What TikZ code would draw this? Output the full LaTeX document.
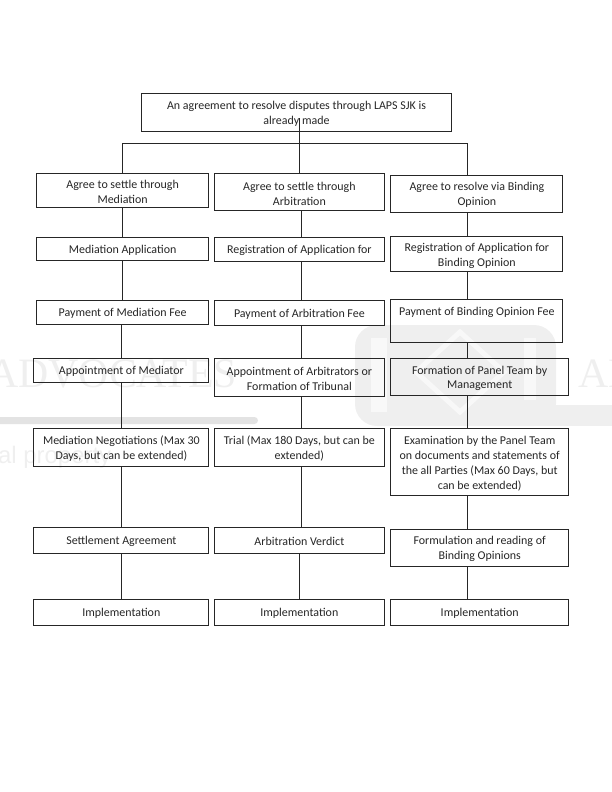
\documentclass[tikz,border=0pt]{standalone}
\usepackage{fontspec}
\setmainfont{Carlito}
\newfontfamily\markfont{Liberation Serif}
\newfontfamily\marksans{Liberation Sans}
\usetikzlibrary{positioning}
\definecolor{markgray}{HTML}{EFEFEF}
\definecolor{marklight}{HTML}{F8F8F8}

\begin{document}
\begin{tikzpicture}[
    x=1bp, y=-1bp,
    every node/.style={font=\fontsize{12}{15}\selectfont, text=black!85},
    stepbox/.style={rectangle, draw=black!85, line width=1bp, outer sep=0pt, inner sep=0pt,
                    text height=10bp, align=center, minimum width=172.2bp},
    topbox/.style={stepbox, minimum width=310.4bp, minimum height=37.7bp},
    midbox/.style={stepbox, minimum width=170.7bp},
    lowbox/.style={stepbox, minimum width=174.7bp},
    widebox/.style={stepbox, minimum width=178bp},
    twolines/.style={text height=26bp},
    fourlines/.style={text height=56bp},
    marktext/.style={text=markgray, inner sep=0pt, anchor=base west},
    conn/.style={draw=black!85, line width=1bp},
]
\useasboundingbox (0,0) rectangle (612,792);

% watermark
\fill[markgray!95!black, rounded corners=3.5bp] (-10,417) rectangle (258,424);
\fill[markgray, rounded corners=22bp] (355,325) rectangle (556,426);
\fill[markgray] (530,405) rectangle (612,426);
\fill[marklight] (371,338) rectangle (387,412);
\draw[marklight, line width=5bp] (460,332) -- (416,372) -- (460,412) -- (504,372) -- cycle;
\fill[marklight] (524,338) rectangle (536,400);
\node[marktext, font=\markfont\fontsize{42}{42}\selectfont] (markleft) at (-12,387) {ADVOCATES};
\node[marktext, font=\markfont\fontsize{42}{42}\selectfont] (markright) at (578,387) {AD};
\node[marktext, font=\marksans\fontsize{24}{24}\selectfont] (markline) at (-2,463) {al property};

\node[topbox, twolines] (agree) at (296.5,112.15) {An agreement to resolve disputes through LAPS SJK is\\already made};

\node[stepbox, twolines, minimum height=33.3bp] (m1) at (122.6,190.35) {Agree to settle through\\Mediation};
\node[stepbox, minimum height=23bp,   below=30.7bp of m1] (m2) {Mediation Application};
\node[stepbox, minimum height=24bp,   below=39.6bp of m2] (m3) {Payment of Mediation Fee};
\node[lowbox, minimum height=24bp, below=34bp of m3, xshift=-1.25bp] (m4) {Appointment of Mediator};
\node[lowbox, twolines, minimum height=37.7bp, below=46bp of m4] (m5) {Mediation Negotiations (Max 30\\Days, but can be extended)};
\node[lowbox, minimum height=26.4bp, below=61.3bp of m5] (m6) {Settlement Agreement};
\node[lowbox, minimum height=25.7bp, below=45.6bp of m6] (m7) {Implementation};

\node[midbox, twolines, minimum height=37bp] (a1) at (299.35,192.2) {Agree to settle through\\Arbitration};
\node[midbox, minimum height=23.7bp, below=26.6bp of a1] (a2) {Registration of Application for};
\node[midbox, minimum height=25.4bp, below=39.3bp of a2] (a3) {Payment of Arbitration Fee};
\node[midbox, twolines, minimum height=38bp, below=32.6bp of a3] (a4) {Appointment of Arbitrators or\\Formation of Tribunal};
\node[midbox, twolines, minimum height=37.7bp, below=32bp of a4] (a5) {Trial (Max 180 Days, but can be\\extended)};
\node[midbox, minimum height=26.4bp, below=61.3bp of a5] (a6) {Arbitration Verdict};
\node[midbox, minimum height=25.7bp, below=45.6bp of a6] (a7) {Implementation};

\node[stepbox, twolines, minimum height=36.7bp] (b1) at (476.85,193.65) {Agree to resolve via Binding\\Opinion};
\node[stepbox, twolines, minimum height=35bp, below=24.7bp of b1] (b2) {Registration of Application for\\Binding Opinion};
\node[stepbox, minimum height=42.3bp, text depth=21bp, below=28bp of b2] (b3) {Payment of Binding Opinion Fee};
\node[widebox, twolines, minimum height=37.4bp, below=16.3bp of b3, xshift=2.85bp] (b4) {Formation of Panel Team by\\Management};
\node[widebox, fourlines, minimum height=67.4bp, below=32.6bp of b4] (b5) {Examination by the Panel Team\\on documents and statements of\\the all Parties (Max 60 Days, but\\can be extended)};
\node[widebox, twolines, minimum height=37.3bp, below=33.3bp of b5] (b6) {Formulation and reading of\\Binding Opinions};
\node[widebox, minimum height=25.7bp, below=33bp of b6] (b7) {Implementation};

\coordinate (tap)  at (299.3,118);
\coordinate (busl) at (122.7,143.3);
\coordinate (busr) at (467.3,143.3);
\coordinate (lowl) at (121,143.3);
\coordinate (lowm) at (301,143.3);

\draw[conn] (tap) -- (tap |- a1.north);
\draw[conn] (busl |- m1.north) -- (busl) -- (busr) -- (busr |- b1.north);

\draw[conn] (m1.south -| busl) -- (m2.north -| busl);
\draw[conn] (m2.south -| busl) -- (m3.north -| busl);
\draw[conn] (m3.south -| lowl) -- (m4.north -| lowl);
\draw[conn] (m4.south -| lowl) -- (m5.north -| lowl);
\draw[conn] (m5.south -| lowl) -- (m6.north -| lowl);
\draw[conn] (m6.south -| lowl) -- (m7.north -| lowl);

\draw[conn] (a1.south -| lowm) -- (a2.north -| lowm);
\draw[conn] (a2.south -| lowm) -- (a3.north -| lowm);
\draw[conn] (a3.south -| lowm) -- (a4.north -| lowm);
\draw[conn] (a4.south -| lowm) -- (a5.north -| lowm);
\draw[conn] (a5.south -| lowm) -- (a6.north -| lowm);
\draw[conn] (a6.south -| tap)  -- (a7.north -| tap);

\draw[conn] (b1.south -| busr) -- (b2.north -| busr);
\draw[conn] (b2.south -| busr) -- (b3.north -| busr);
\draw[conn] (b3.south -| busr) -- (b4.north -| busr);
\draw[conn] (b4.south -| busr) -- (b5.north -| busr);
\draw[conn] (b5.south -| busr) -- (b6.north -| busr);
\draw[conn] (b6.south -| busr) -- (b7.north -| busr);

\end{tikzpicture}
\end{document}
